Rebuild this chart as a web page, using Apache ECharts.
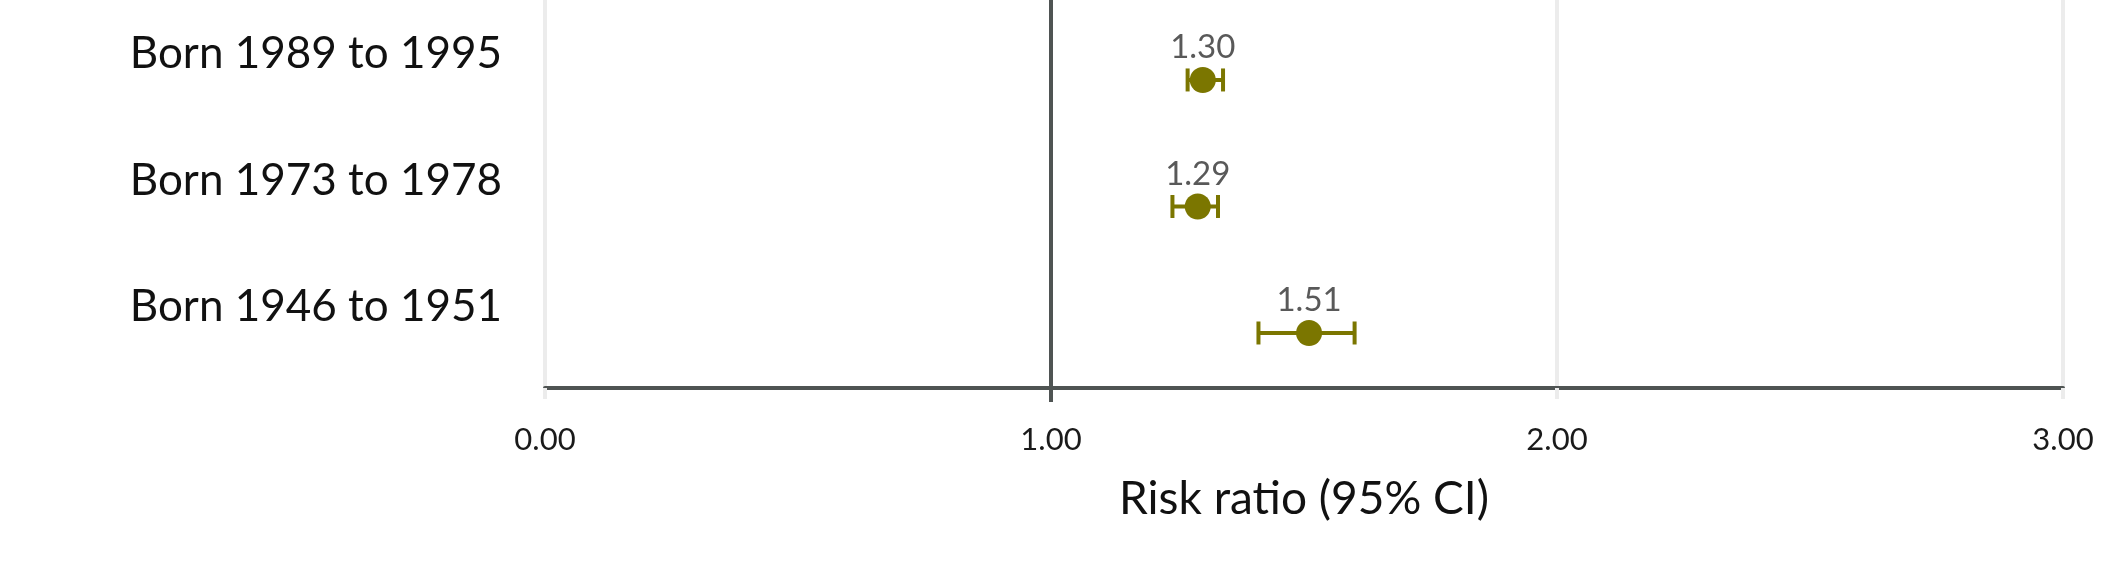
<!DOCTYPE html>
<html>
<head>
<meta charset="utf-8">
<script src="https://cdn.jsdelivr.net/npm/echarts@6/dist/echarts.min.js"></script>
<style>
html,body{margin:0;padding:0;background:#fff;}
#chart{width:2126px;height:563px;}
</style>
</head>
<body>
<div id="chart"></div>
<script>
// Categories bottom-to-top
var categories = ['Born 1946 to 1951', 'Born 1973 to 1978', 'Born 1989 to 1995'];
var riskRatio = [1.51, 1.29, 1.30];
var ciLower = [1.41, 1.24, 1.27];
var ciUpper = [1.60, 1.33, 1.34];
var xTicks = [0, 1, 2, 3];

var OLIVE = '#7b7600';
var FONT = 'Lato, "Noto Sans", sans-serif';

var pointData = riskRatio.map(function (v, i) { return [v, i]; });
var ciData = riskRatio.map(function (v, i) { return [ciLower[i], ciUpper[i], i]; });

var chart = echarts.init(document.getElementById('chart'));
chart.setOption({
  backgroundColor: '#fff',
  animation: false,
  grid: { left: 545, right: 63, top: 0, bottom: 175, containLabel: false },
  xAxis: [{
    type: 'value', min: 0, max: 3, interval: 1,
    axisLine: { show: true, onZero: false, lineStyle: { color: '#4f5453', width: 4 } },
    axisTick: { show: true, length: 11, lineStyle: { color: '#ececec', width: 4 } },
    splitLine: { show: true, lineStyle: { color: '#ececec', width: 4 } },
    axisLabel: {
      margin: 36, fontSize: 31, color: '#1a1a1a', fontFamily: FONT,
      formatter: function (v) { return v.toFixed(2); }
    },
    name: 'Risk ratio (95% CI)', nameLocation: 'middle', nameGap: 88,
    nameTextStyle: { fontSize: 46, color: '#111', fontFamily: FONT }
  }, {
    type: 'value', min: 0, max: 3, position: 'bottom',
    axisLine: { show: false, onZero: false },
    axisTick: { show: true, length: 14, customValues: [1], lineStyle: { color: '#4f5453', width: 4 } },
    splitLine: { show: false },
    axisLabel: { show: false }
  }],
  yAxis: {
    type: 'value', min: -0.4348, max: 2.632,
    axisLine: { show: false },
    axisTick: { show: false },
    splitLine: { show: false },
    axisLabel: {
      customValues: [0, 1, 2],
      margin: 43, fontSize: 44, color: '#111', fontFamily: FONT,
      verticalAlign: 'bottom', lineHeight: 52,
      formatter: function (v) { return categories[Math.round(v)] || ''; }
    }
  },
  series: [{
    type: 'custom',
    xAxisIndex: 0,
    renderItem: function (params, api) {
      var lo = api.coord([api.value(0), api.value(2)]);
      var hi = api.coord([api.value(1), api.value(2)]);
      var h = 11.5;
      var style = { stroke: OLIVE, lineWidth: 4, fill: null };
      return {
        type: 'group',
        children: [
          { type: 'line', shape: { x1: lo[0], y1: lo[1], x2: hi[0], y2: hi[1] }, style: style },
          { type: 'line', shape: { x1: lo[0], y1: lo[1] - h, x2: lo[0], y2: lo[1] + h }, style: style },
          { type: 'line', shape: { x1: hi[0], y1: hi[1] - h, x2: hi[0], y2: hi[1] + h }, style: style }
        ]
      };
    },
    encode: { x: [0, 1], y: 2 },
    data: ciData,
    z: 3
  }, {
    type: 'scatter',
    xAxisIndex: 0,
    data: pointData,
    symbol: 'circle',
    symbolSize: 26,
    itemStyle: { color: OLIVE, opacity: 1 },
    label: {
      show: true, position: 'top', distance: 3,
      fontSize: 33, color: '#595959', fontFamily: FONT,
      formatter: function (p) { return p.value[0].toFixed(2); }
    },
    markLine: {
      silent: true, symbol: 'none', label: { show: false },
      lineStyle: { color: '#4f5453', width: 4, type: 'solid' },
      data: [{ xAxis: 1 }]
    },
    z: 4
  }]
});
</script>
</body>
</html>
